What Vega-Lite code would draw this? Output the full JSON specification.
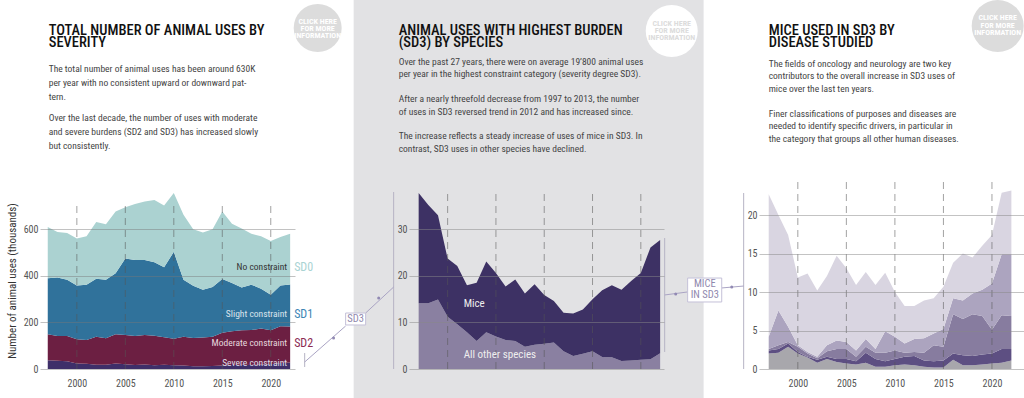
{
  "$schema": "https://vega.github.io/schema/vega-lite/v6.json",
  "padding": {"left": 6, "top": 0, "right": 0, "bottom": 0},
  "background": "white",
  "config": {
    "font": "Liberation Sans Narrow, Roboto Condensed, Roboto, sans-serif",
    "view": {"stroke": null},
    "axis": {"domain": false, "ticks": false, "labelFontSize": 10, "labelColor": "#555", "titleFontWeight": "normal"},
    "text": {"font": "Liberation Sans Narrow, Roboto Condensed, Roboto, sans-serif"}
  },
  "datasets": {
    "severity": [
      {"year":1997,"level":"SD3","value":37.8},{"year":1997,"level":"SD2","value":111.2},{"year":1997,"level":"SD1","value":241},{"year":1997,"level":"SD0","value":220},
      {"year":1998,"level":"SD3","value":35.2},{"year":1998,"level":"SD2","value":106.8},{"year":1998,"level":"SD1","value":251},{"year":1998,"level":"SD0","value":195},
      {"year":1999,"level":"SD3","value":33.0},{"year":1999,"level":"SD2","value":109.0},{"year":1999,"level":"SD1","value":241},{"year":1999,"level":"SD0","value":201},
      {"year":2000,"level":"SD3","value":23.7},{"year":2000,"level":"SD2","value":104.3},{"year":2000,"level":"SD1","value":231},{"year":2000,"level":"SD0","value":201},
      {"year":2001,"level":"SD3","value":22.1},{"year":2001,"level":"SD2","value":102.9},{"year":2001,"level":"SD1","value":237},{"year":2001,"level":"SD0","value":208},
      {"year":2002,"level":"SD3","value":18.0},{"year":2002,"level":"SD2","value":121.0},{"year":2002,"level":"SD1","value":248},{"year":2002,"level":"SD0","value":244},
      {"year":2003,"level":"SD3","value":18.5},{"year":2003,"level":"SD2","value":113.5},{"year":2003,"level":"SD1","value":251},{"year":2003,"level":"SD0","value":238},
      {"year":2004,"level":"SD3","value":23.1},{"year":2004,"level":"SD2","value":125.9},{"year":2004,"level":"SD1","value":262},{"year":2004,"level":"SD0","value":265},
      {"year":2005,"level":"SD3","value":20.6},{"year":2005,"level":"SD2","value":125.4},{"year":2005,"level":"SD1","value":329},{"year":2005,"level":"SD0","value":220},
      {"year":2006,"level":"SD3","value":17.7},{"year":2006,"level":"SD2","value":124.3},{"year":2006,"level":"SD1","value":326},{"year":2006,"level":"SD0","value":241},
      {"year":2007,"level":"SD3","value":19.2},{"year":2007,"level":"SD2","value":126.8},{"year":2007,"level":"SD1","value":322},{"year":2007,"level":"SD0","value":251},
      {"year":2008,"level":"SD3","value":16.2},{"year":2008,"level":"SD2","value":126.8},{"year":2008,"level":"SD1","value":315},{"year":2008,"level":"SD0","value":268},
      {"year":2009,"level":"SD3","value":18.2},{"year":2009,"level":"SD2","value":117.8},{"year":2009,"level":"SD1","value":301},{"year":2009,"level":"SD0","value":265},
      {"year":2010,"level":"SD3","value":15.9},{"year":2010,"level":"SD2","value":114.1},{"year":2010,"level":"SD1","value":373},{"year":2010,"level":"SD0","value":253},
      {"year":2011,"level":"SD3","value":14.6},{"year":2011,"level":"SD2","value":124.4},{"year":2011,"level":"SD1","value":244},{"year":2011,"level":"SD0","value":279},
      {"year":2012,"level":"SD3","value":12.1},{"year":2012,"level":"SD2","value":120.9},{"year":2012,"level":"SD1","value":224},{"year":2012,"level":"SD0","value":243},
      {"year":2013,"level":"SD3","value":11.9},{"year":2013,"level":"SD2","value":123.1},{"year":2013,"level":"SD1","value":205},{"year":2013,"level":"SD0","value":246},
      {"year":2014,"level":"SD3","value":12.8},{"year":2014,"level":"SD2","value":125.2},{"year":2014,"level":"SD1","value":214},{"year":2014,"level":"SD0","value":248},
      {"year":2015,"level":"SD3","value":15.0},{"year":2015,"level":"SD2","value":141.0},{"year":2015,"level":"SD1","value":230},{"year":2015,"level":"SD0","value":290},
      {"year":2016,"level":"SD3","value":16.9},{"year":2016,"level":"SD2","value":145.1},{"year":2016,"level":"SD1","value":207},{"year":2016,"level":"SD0","value":255},
      {"year":2017,"level":"SD3","value":18.0},{"year":2017,"level":"SD2","value":148.0},{"year":2017,"level":"SD1","value":184},{"year":2017,"level":"SD0","value":253},
      {"year":2018,"level":"SD3","value":17.0},{"year":2018,"level":"SD2","value":150.0},{"year":2018,"level":"SD1","value":195},{"year":2018,"level":"SD0","value":219},
      {"year":2019,"level":"SD3","value":18.9},{"year":2019,"level":"SD2","value":155.1},{"year":2019,"level":"SD1","value":171},{"year":2019,"level":"SD0","value":225},
      {"year":2020,"level":"SD3","value":20.6},{"year":2020,"level":"SD2","value":145.4},{"year":2020,"level":"SD1","value":153},{"year":2020,"level":"SD0","value":231},
      {"year":2021,"level":"SD3","value":26.1},{"year":2021,"level":"SD2","value":157.9},{"year":2021,"level":"SD1","value":175},{"year":2021,"level":"SD0","value":208},
      {"year":2022,"level":"SD3","value":27.7},{"year":2022,"level":"SD2","value":154.3},{"year":2022,"level":"SD1","value":181},{"year":2022,"level":"SD0","value":218}
    ],
    "sd3": [
      {"year":1997,"species":"All other species","value":14.1},{"year":1997,"species":"Mice","value":23.7},
      {"year":1998,"species":"All other species","value":14.1},{"year":1998,"species":"Mice","value":21.1},
      {"year":1999,"species":"All other species","value":14.9},{"year":1999,"species":"Mice","value":18.1},
      {"year":2000,"species":"All other species","value":11.2},{"year":2000,"species":"Mice","value":12.5},
      {"year":2001,"species":"All other species","value":9.6},{"year":2001,"species":"Mice","value":12.5},
      {"year":2002,"species":"All other species","value":7.9},{"year":2002,"species":"Mice","value":10.1},
      {"year":2003,"species":"All other species","value":6.0},{"year":2003,"species":"Mice","value":12.5},
      {"year":2004,"species":"All other species","value":7.9},{"year":2004,"species":"Mice","value":15.2},
      {"year":2005,"species":"All other species","value":7.0},{"year":2005,"species":"Mice","value":13.6},
      {"year":2006,"species":"All other species","value":6.2},{"year":2006,"species":"Mice","value":11.5},
      {"year":2007,"species":"All other species","value":6.0},{"year":2007,"species":"Mice","value":13.2},
      {"year":2008,"species":"All other species","value":4.8},{"year":2008,"species":"Mice","value":11.4},
      {"year":2009,"species":"All other species","value":5.2},{"year":2009,"species":"Mice","value":13.0},
      {"year":2010,"species":"All other species","value":5.4},{"year":2010,"species":"Mice","value":10.5},
      {"year":2011,"species":"All other species","value":5.7},{"year":2011,"species":"Mice","value":8.9},
      {"year":2012,"species":"All other species","value":3.8},{"year":2012,"species":"Mice","value":8.3},
      {"year":2013,"species":"All other species","value":2.8},{"year":2013,"species":"Mice","value":9.1},
      {"year":2014,"species":"All other species","value":3.3},{"year":2014,"species":"Mice","value":9.5},
      {"year":2015,"species":"All other species","value":3.8},{"year":2015,"species":"Mice","value":11.2},
      {"year":2016,"species":"All other species","value":2.6},{"year":2016,"species":"Mice","value":14.3},
      {"year":2017,"species":"All other species","value":2.5},{"year":2017,"species":"Mice","value":15.5},
      {"year":2018,"species":"All other species","value":1.7},{"year":2018,"species":"Mice","value":15.3},
      {"year":2019,"species":"All other species","value":1.8},{"year":2019,"species":"Mice","value":17.1},
      {"year":2020,"species":"All other species","value":2.0},{"year":2020,"species":"Mice","value":18.6},
      {"year":2021,"species":"All other species","value":2.1},{"year":2021,"species":"Mice","value":24.0},
      {"year":2022,"species":"All other species","value":3.4},{"year":2022,"species":"Mice","value":24.3}
    ],
    "mice": [
      {"year":1997,"disease":"Cardiovascular","value":2.0},{"year":1997,"disease":"Immunology","value":0.4},{"year":1997,"disease":"Neurology","value":0.2},{"year":1997,"disease":"Oncology","value":1.6},{"year":1997,"disease":"Other human diseases","value":18.5},
      {"year":1998,"disease":"Cardiovascular","value":2.1},{"year":1998,"disease":"Immunology","value":0.5},{"year":1998,"disease":"Neurology","value":0.5},{"year":1998,"disease":"Oncology","value":4.5},{"year":1998,"disease":"Other human diseases","value":12.4},
      {"year":1999,"disease":"Cardiovascular","value":2.9},{"year":1999,"disease":"Immunology","value":0.4},{"year":1999,"disease":"Neurology","value":0.2},{"year":1999,"disease":"Oncology","value":2.0},{"year":1999,"disease":"Other human diseases","value":11.9},
      {"year":2000,"disease":"Cardiovascular","value":2.0},{"year":2000,"disease":"Immunology","value":0.2},{"year":2000,"disease":"Neurology","value":0.7},{"year":2000,"disease":"Oncology","value":0.2},{"year":2000,"disease":"Other human diseases","value":8.8},
      {"year":2001,"disease":"Cardiovascular","value":1.5},{"year":2001,"disease":"Immunology","value":0.1},{"year":2001,"disease":"Neurology","value":0.4},{"year":2001,"disease":"Oncology","value":0.2},{"year":2001,"disease":"Other human diseases","value":10.2},
      {"year":2002,"disease":"Cardiovascular","value":0.8},{"year":2002,"disease":"Immunology","value":0.4},{"year":2002,"disease":"Neurology","value":0.2},{"year":2002,"disease":"Oncology","value":0.2},{"year":2002,"disease":"Other human diseases","value":8.6},
      {"year":2003,"disease":"Cardiovascular","value":1.3},{"year":2003,"disease":"Immunology","value":0.3},{"year":2003,"disease":"Neurology","value":0.7},{"year":2003,"disease":"Oncology","value":0.8},{"year":2003,"disease":"Other human diseases","value":9.0},
      {"year":2004,"disease":"Cardiovascular","value":0.9},{"year":2004,"disease":"Immunology","value":0.4},{"year":2004,"disease":"Neurology","value":1.3},{"year":2004,"disease":"Oncology","value":1.1},{"year":2004,"disease":"Other human diseases","value":11.0},
      {"year":2005,"disease":"Cardiovascular","value":0.7},{"year":2005,"disease":"Immunology","value":0.6},{"year":2005,"disease":"Neurology","value":1.3},{"year":2005,"disease":"Oncology","value":0.9},{"year":2005,"disease":"Other human diseases","value":9.6},
      {"year":2006,"disease":"Cardiovascular","value":0.6},{"year":2006,"disease":"Immunology","value":0.4},{"year":2006,"disease":"Neurology","value":0.6},{"year":2006,"disease":"Oncology","value":0.8},{"year":2006,"disease":"Other human diseases","value":8.5},
      {"year":2007,"disease":"Cardiovascular","value":0.8},{"year":2007,"disease":"Immunology","value":1.3},{"year":2007,"disease":"Neurology","value":0.8},{"year":2007,"disease":"Oncology","value":1.0},{"year":2007,"disease":"Other human diseases","value":8.7},
      {"year":2008,"disease":"Cardiovascular","value":0.3},{"year":2008,"disease":"Immunology","value":1.0},{"year":2008,"disease":"Neurology","value":0.8},{"year":2008,"disease":"Oncology","value":0.5},{"year":2008,"disease":"Other human diseases","value":8.3},
      {"year":2009,"disease":"Cardiovascular","value":0.3},{"year":2009,"disease":"Immunology","value":0.7},{"year":2009,"disease":"Neurology","value":1.1},{"year":2009,"disease":"Oncology","value":2.8},{"year":2009,"disease":"Other human diseases","value":7.6},
      {"year":2010,"disease":"Cardiovascular","value":0.5},{"year":2010,"disease":"Immunology","value":0.8},{"year":2010,"disease":"Neurology","value":1.1},{"year":2010,"disease":"Oncology","value":1.8},{"year":2010,"disease":"Other human diseases","value":5.8},
      {"year":2011,"disease":"Cardiovascular","value":0.6},{"year":2011,"disease":"Immunology","value":1.0},{"year":2011,"disease":"Neurology","value":0.5},{"year":2011,"disease":"Oncology","value":1.2},{"year":2011,"disease":"Other human diseases","value":4.9},
      {"year":2012,"disease":"Cardiovascular","value":0.5},{"year":2012,"disease":"Immunology","value":1.2},{"year":2012,"disease":"Neurology","value":0.5},{"year":2012,"disease":"Oncology","value":1.7},{"year":2012,"disease":"Other human diseases","value":4.3},
      {"year":2013,"disease":"Cardiovascular","value":0.3},{"year":2013,"disease":"Immunology","value":0.8},{"year":2013,"disease":"Neurology","value":1.0},{"year":2013,"disease":"Oncology","value":1.9},{"year":2013,"disease":"Other human diseases","value":4.9},
      {"year":2014,"disease":"Cardiovascular","value":0.2},{"year":2014,"disease":"Immunology","value":0.8},{"year":2014,"disease":"Neurology","value":2.1},{"year":2014,"disease":"Oncology","value":1.5},{"year":2014,"disease":"Other human diseases","value":4.6},
      {"year":2015,"disease":"Cardiovascular","value":0.2},{"year":2015,"disease":"Immunology","value":0.9},{"year":2015,"disease":"Neurology","value":1.8},{"year":2015,"disease":"Oncology","value":2.3},{"year":2015,"disease":"Other human diseases","value":5.5},
      {"year":2016,"disease":"Cardiovascular","value":1.2},{"year":2016,"disease":"Immunology","value":0.8},{"year":2016,"disease":"Neurology","value":5.1},{"year":2016,"disease":"Oncology","value":2.1},{"year":2016,"disease":"Other human diseases","value":4.6},
      {"year":2017,"disease":"Cardiovascular","value":0.5},{"year":2017,"disease":"Immunology","value":1.3},{"year":2017,"disease":"Neurology","value":4.7},{"year":2017,"disease":"Oncology","value":2.4},{"year":2017,"disease":"Other human diseases","value":6.1},
      {"year":2018,"disease":"Cardiovascular","value":0.5},{"year":2018,"disease":"Immunology","value":1.2},{"year":2018,"disease":"Neurology","value":5.4},{"year":2018,"disease":"Oncology","value":2.7},{"year":2018,"disease":"Other human diseases","value":4.7},
      {"year":2019,"disease":"Cardiovascular","value":0.6},{"year":2019,"disease":"Immunology","value":1.3},{"year":2019,"disease":"Neurology","value":5.0},{"year":2019,"disease":"Oncology","value":3.4},{"year":2019,"disease":"Other human diseases","value":5.7},
      {"year":2020,"disease":"Cardiovascular","value":0.7},{"year":2020,"disease":"Immunology","value":1.3},{"year":2020,"disease":"Neurology","value":3.1},{"year":2020,"disease":"Oncology","value":6.0},{"year":2020,"disease":"Other human diseases","value":6.3},
      {"year":2021,"disease":"Cardiovascular","value":0.8},{"year":2021,"disease":"Immunology","value":1.8},{"year":2021,"disease":"Neurology","value":4.4},{"year":2021,"disease":"Oncology","value":7.9},{"year":2021,"disease":"Other human diseases","value":8.0},
      {"year":2022,"disease":"Cardiovascular","value":1.1},{"year":2022,"disease":"Immunology","value":1.5},{"year":2022,"disease":"Neurology","value":4.3},{"year":2022,"disease":"Oncology","value":8.0},{"year":2022,"disease":"Other human diseases","value":8.3}
    ],
    "marks5": [{"year":2000},{"year":2005},{"year":2010},{"year":2015},{"year":2020}],
    "one": [{}]
  },
  "bounds": "flush",
  "spacing": 114,
  "resolve": {"scale": {"color": "independent"}},
  "hconcat": [
    {
      "width": 255,
      "height": 177,
      "data": {"name": "one"},
      "title": {
        "text": ["TOTAL NUMBER OF ANIMAL USES BY", "SEVERITY"],
        "subtitle": ["The total number of animal uses has been around 630K", "\u200b", "per year with no consistent upward or downward pat-", "\u200b", "tern.", "\u200b", "\u200b", "Over the last decade, the number of uses with moderate", "\u200b", "and severe burdens (SD2 and SD3) has increased slowly", "\u200b", "but consistently."],
        "anchor": "start", "frame": "group", "orient": "top", "dx": 8.7, "offset": -147,
        "fontSize": 14.5, "fontWeight": 500, "color": "#111111", "lineHeight": 12,
        "subtitleFontSize": 9.5, "subtitleFontWeight": "normal", "subtitleColor": "#444", "subtitleLineHeight": 7, "subtitlePadding": 13
      },
      "layer": [
        {
          "data": {"name": "severity"},
          "mark": {"type": "area", "opacity": 1},
          "encoding": {
            "x": {"field": "year", "type": "quantitative", "scale": {"domain": [1996.2, 2022.5], "nice": false, "zero": false},
                  "axis": {"values": [2000, 2005, 2010, 2015, 2020], "format": "d", "title": null, "grid": false, "labelPadding": 9}},
            "y": {"field": "value", "type": "quantitative", "stack": "zero", "scale": {"domain": [0, 760], "nice": false},
                  "axis": {"values": [0, 200, 400, 600], "title": "Number of animal uses (thousands)", "titleFontSize": 11, "titleColor": "#333", "titlePadding": 6,
                           "grid": true, "gridColor": "#777", "gridOpacity": 0.45, "labelPadding": 2, "zindex": 1}},
            "color": {"field": "level", "type": "nominal", "scale": {"domain": ["SD0", "SD1", "SD2", "SD3"], "range": ["#abd2d1", "#30729b", "#6c1f42", "#3e2f69"]}, "legend": null},
            "order": {"field": "level", "sort": "descending"}
          }
        },
        {
          "data": {"name": "marks5"},
          "mark": {"type": "rule", "strokeDash": [7, 5], "color": "#555", "opacity": 0.55},
          "encoding": {"x": {"field": "year", "type": "quantitative"}, "y": {"datum": 0}, "y2": {"datum": 715}}
        },
        {"mark": {"type": "text", "align": "right", "baseline": "middle", "dx": -3, "fontSize": 9.5, "color": "#333"},
         "encoding": {"x": {"datum": 2022}, "y": {"datum": 438}, "text": {"value": "No constraint"}}},
        {"mark": {"type": "text", "align": "right", "baseline": "middle", "dx": -3, "fontSize": 9.5, "color": "#dbe4ec"},
         "encoding": {"x": {"datum": 2022}, "y": {"datum": 236}, "text": {"value": "Slight constraint"}}},
        {"mark": {"type": "text", "align": "right", "baseline": "middle", "dx": -3, "fontSize": 9.5, "color": "#e6d8de"},
         "encoding": {"x": {"datum": 2022}, "y": {"datum": 112}, "text": {"value": "Moderate constraint"}}},
        {"mark": {"type": "text", "align": "right", "baseline": "middle", "dx": -3, "fontSize": 9.5, "color": "#dddde8"},
         "encoding": {"x": {"datum": 2022}, "y": {"datum": 25.8}, "text": {"value": "Severe constraint"}}},
        {"mark": {"type": "text", "align": "left", "baseline": "middle", "dx": 4, "fontSize": 12, "color": "#a9d3d3"},
         "encoding": {"x": {"datum": 2022}, "y": {"datum": 438}, "text": {"value": "SD0"}}},
        {"mark": {"type": "text", "align": "left", "baseline": "middle", "dx": 4, "fontSize": 12, "color": "#3d86b5"},
         "encoding": {"x": {"datum": 2022}, "y": {"datum": 236}, "text": {"value": "SD1"}}},
        {"mark": {"type": "text", "align": "left", "baseline": "middle", "dx": 4, "fontSize": 12, "color": "#8c2b52"},
         "encoding": {"x": {"datum": 2022}, "y": {"datum": 112}, "text": {"value": "SD2"}}},
        {"mark": {"type": "point", "shape": "circle", "filled": true, "size": 2304, "color": "#dcdcdc", "opacity": 1},
         "encoding": {"x": {"datum": 2024.84}, "y": {"datum": 1464}}},
        {"mark": {"type": "text", "align": "center", "baseline": "middle", "fontSize": 8, "fontWeight": "bold", "lineHeight": 7, "color": "#ffffff"},
         "encoding": {"x": {"datum": 2024.84}, "y": {"datum": 1490}, "text": {"value": ["CLICK HERE", "FOR MORE", "INFORMATION"]}}}
      ]
    },
    {
      "bounds": "flush",
      "spacing": 95,
      "resolve": {"scale": {"color": "independent"}},
      "hconcat": [
        {
          "width": 255,
          "height": 177,
          "data": {"name": "one"},
          "title": {
            "text": ["ANIMAL USES WITH HIGHEST BURDEN", "(SD3) BY SPECIES"],
            "subtitle": ["Over the past 27 years, there were on average 19’800 animal uses", "per year in the highest constraint category (severity degree SD3).", "\u200b", "After a nearly threefold decrease from 1997 to 2013, the number", "of uses in SD3 reversed trend in 2012 and has increased since.", "\u200b", "The increase reflects a steady increase of uses of mice in SD3. In", "contrast, SD3 uses in other species have declined."],
            "anchor": "start", "frame": "group", "orient": "top", "dx": -10.3, "offset": -154.3,
            "fontSize": 14.5, "fontWeight": 500, "color": "#111111", "lineHeight": 12,
            "subtitleFontSize": 9.5, "subtitleFontWeight": "normal", "subtitleColor": "#444", "subtitleLineHeight": 12.4, "subtitlePadding": 6.5
          },
          "layer": [
            {"mark": {"type": "rect", "color": "#e2e2e4"},
             "encoding": {"x": {"datum": 1990.27}, "x2": {"datum": 2026.5}, "y": {"datum": 79.22}, "y2": {"datum": -6.23}}},
            {
              "data": {"name": "sd3"},
              "mark": {"type": "area", "opacity": 1},
              "encoding": {
                "x": {"field": "year", "type": "quantitative", "scale": {"domain": [1996, 2022.4], "nice": false, "zero": false},
                      "axis": {"values": [2000, 2005, 2010, 2015, 2020], "format": "d", "title": null, "grid": false, "labelPadding": 9}},
                "y": {"field": "value", "type": "quantitative", "stack": "zero", "scale": {"domain": [0, 38], "nice": false},
                      "axis": {"values": [0, 10, 20, 30], "title": null, "grid": true, "gridColor": "#888", "gridOpacity": 0.5, "labelPadding": 2, "zindex": 1}},
                "color": {"field": "species", "type": "nominal", "scale": {"domain": ["All other species", "Mice"], "range": ["#8a80a1", "#3d3164"]}, "legend": null},
                "order": {"field": "species", "sort": "ascending"}
              }
            },
            {
              "data": {"name": "marks5"},
              "mark": {"type": "rule", "strokeDash": [7, 5], "color": "#555", "opacity": 0.55},
              "encoding": {"x": {"field": "year", "type": "quantitative"}, "y": {"datum": 0}, "y2": {"datum": 38}}
            },
            {"mark": {"type": "rule", "color": "#b6b3c4"}, "encoding": {"x": {"datum": 1994.41}, "y": {"datum": 0}, "y2": {"datum": 38}}},
            {"mark": {"type": "rule", "color": "#b6b3c4"}, "encoding": {"x": {"datum": 2022.47}, "y": {"datum": 3.65}, "y2": {"datum": 28.12}}},
            {"mark": {"type": "rule", "color": "#b6b3c4"}, "encoding": {"x": {"datum": 1985.2}, "y": {"datum": 0.43}, "y2": {"datum": 3.43}}},
            {"mark": {"type": "rule", "color": "#aaa4c4"}, "encoding": {"x": {"datum": 1985.2}, "y": {"datum": 1.5}, "x2": {"datum": 1989.44}, "y2": {"datum": 9.23}}},
            {"mark": {"type": "rule", "color": "#aaa4c4"}, "encoding": {"x": {"datum": 1991.51}, "y": {"datum": 12.02}, "x2": {"datum": 1994.41}, "y2": {"datum": 17.6}}},
            {"mark": {"type": "point", "shape": "circle", "filled": true, "size": 9, "color": "#9189b3", "opacity": 1},
             "encoding": {"x": {"datum": 1988.19}, "y": {"datum": 6.66}}},
            {"mark": {"type": "point", "shape": "circle", "filled": true, "size": 9, "color": "#9189b3", "opacity": 1},
             "encoding": {"x": {"datum": 1992.86}, "y": {"datum": 15.24}}},
            {"mark": {"type": "rect", "fill": "#ffffff", "stroke": "#c4c0d8", "strokeWidth": 1},
             "encoding": {"x": {"datum": 1989.44}, "x2": {"datum": 1991.51}, "y": {"datum": 12.02}, "y2": {"datum": 9.45}}},
            {"mark": {"type": "text", "align": "center", "baseline": "middle", "fontSize": 10.5, "color": "#8f88ad"},
             "encoding": {"x": {"datum": 1990.48}, "y": {"datum": 10.73}, "text": {"value": "SD3"}}},
            {"mark": {"type": "text", "align": "left", "baseline": "middle", "fontSize": 11, "color": "#eeeeee"},
             "encoding": {"x": {"datum": 2001.66}, "y": {"datum": 14}, "text": {"value": "Mice"}}},
            {"mark": {"type": "text", "align": "left", "baseline": "middle", "fontSize": 11, "color": "#eeeeee"},
             "encoding": {"x": {"datum": 2001.66}, "y": {"datum": 3.0}, "text": {"value": "All other species"}}},
            {"mark": {"type": "point", "shape": "circle", "filled": true, "size": 2704, "color": "#ffffff", "opacity": 1},
             "encoding": {"x": {"datum": 2023.2}, "y": {"datum": 72.56}}},
            {"mark": {"type": "text", "align": "center", "baseline": "middle", "fontSize": 8, "fontWeight": "bold", "lineHeight": 7, "color": "#dcdcdc"},
             "encoding": {"x": {"datum": 2023.2}, "y": {"datum": 74.07}, "text": {"value": ["CLICK HERE", "FOR MORE", "INFORMATION"]}}}
          ]
        },
        {
          "width": 265,
          "height": 177,
          "data": {"name": "one"},
          "title": {
            "text": ["MICE USED IN SD3 BY", "DISEASE STUDIED"],
            "subtitle": ["The fields of oncology and neurology are two key", "contributors to the overall increase in SD3 uses of", "mice over the last ten years.", "\u200b", "Finer classifications of purposes and diseases  are", "needed to identify specific drivers, in particular in", "the category that groups all other human diseases."],
            "anchor": "start", "frame": "group", "orient": "top", "dx": 9.7, "offset": -144,
            "fontSize": 14.5, "fontWeight": 500, "color": "#111111", "lineHeight": 12,
            "subtitleFontSize": 9.5, "subtitleFontWeight": "normal", "subtitleColor": "#444", "subtitleLineHeight": 12.5, "subtitlePadding": 8.5
          },
          "layer": [
            {
              "data": {"name": "mice"},
              "mark": {"type": "area", "opacity": 1},
              "encoding": {
                "x": {"field": "year", "type": "quantitative", "scale": {"domain": [1996, 2023.3], "nice": false, "zero": false},
                      "axis": {"values": [2000, 2005, 2010, 2015, 2020], "format": "d", "title": null, "grid": false, "labelPadding": 9}},
                "y": {"field": "value", "type": "quantitative", "stack": "zero", "scale": {"domain": [0, 23], "nice": false},
                      "axis": {"values": [0, 5, 10, 15, 20], "title": null, "grid": true, "gridColor": "#888", "gridOpacity": 0.5, "labelPadding": 2, "zindex": 1}},
                "color": {"field": "disease", "type": "nominal", "scale": {"domain": ["Cardiovascular", "Immunology", "Neurology", "Oncology", "Other human diseases"], "range": ["#a8a7ac", "#5d4f82", "#877c9f", "#aca4bf", "#d9d5e1"]}, "legend": null},
                "order": {"field": "disease", "sort": "ascending"}
              }
            },
            {
              "data": {"name": "marks5"},
              "mark": {"type": "rule", "strokeDash": [7, 5], "color": "#555", "opacity": 0.55},
              "encoding": {"x": {"field": "year", "type": "quantitative"}, "y": {"datum": 0}, "y2": {"datum": 24.3}}
            },
            {"mark": {"type": "rule", "color": "#b6b3c4"}, "encoding": {"x": {"datum": 1994.42}, "y": {"datum": 0}, "y2": {"datum": 22.87}}},
            {"mark": {"type": "rule", "color": "#aaa4c4"}, "encoding": {"x": {"datum": 1986.29}, "y": {"datum": 9.62}, "x2": {"datum": 1988.65}, "y2": {"datum": 10.01}}},
            {"mark": {"type": "rule", "color": "#aaa4c4"}, "encoding": {"x": {"datum": 1992.16}, "y": {"datum": 10.53}, "x2": {"datum": 1994.42}, "y2": {"datum": 10.78}}},
            {"mark": {"type": "point", "shape": "circle", "filled": true, "size": 9, "color": "#9189b3", "opacity": 1},
             "encoding": {"x": {"datum": 1987.42}, "y": {"datum": 9.75}}},
            {"mark": {"type": "point", "shape": "circle", "filled": true, "size": 9, "color": "#9189b3", "opacity": 1},
             "encoding": {"x": {"datum": 1993.19}, "y": {"datum": 10.65}}},
            {"mark": {"type": "rect", "fill": "#ffffff", "stroke": "#c4c0d8", "strokeWidth": 1},
             "encoding": {"x": {"datum": 1988.65}, "x2": {"datum": 1992.16}, "y": {"datum": 11.82}, "y2": {"datum": 8.71}}},
            {"mark": {"type": "text", "align": "center", "baseline": "middle", "fontSize": 10.5, "lineHeight": 11, "color": "#8f88ad"},
             "encoding": {"x": {"datum": 1990.41}, "y": {"datum": 11.04}, "text": {"value": ["MICE", "IN SD3"]}}},
            {"mark": {"type": "point", "shape": "circle", "filled": true, "size": 2704, "color": "#dcdcdc", "opacity": 1},
             "encoding": {"x": {"datum": 2020.59}, "y": {"datum": 44.57}}},
            {"mark": {"type": "text", "align": "center", "baseline": "middle", "fontSize": 8, "fontWeight": "bold", "lineHeight": 7.5, "color": "#ffffff"},
             "encoding": {"x": {"datum": 2020.59}, "y": {"datum": 45.61}, "text": {"value": ["CLICK HERE", "FOR MORE", "INFORMATION"]}}}
          ]
        }
      ]
    }
  ]
}
